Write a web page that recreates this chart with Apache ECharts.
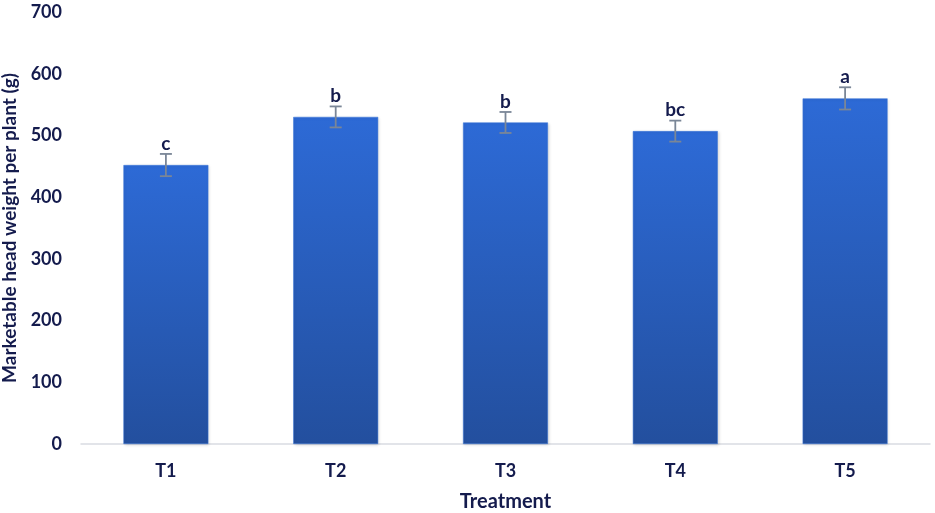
<!DOCTYPE html>
<html lang="en">
<head>
    <meta charset="UTF-8">
    <title>Marketable head weight</title>
    <style>
        html, body { margin: 0; padding: 0; background: #fff; }
    </style>
</head>
<body>
<div id="main" style="width:935px;height:513px;"></div>

<script src="https://cdn.jsdelivr.net/npm/echarts@6/dist/echarts.min.js"></script>
<script>
    var treatments = ['T1', 'T2', 'T3', 'T4', 'T5'];
    var headWeight = [452, 530, 521, 507, 560];
    var stdErr = [18, 17, 17, 17, 18];
    var letters = ['c', 'b', 'b', 'bc', 'a'];

    var textColor = '#141b4d';
    var fontName = 'Lato, "Open Sans", sans-serif';

    var myChart = echarts.init(document.getElementById('main'));

    // error bar + significance letter for each bar
    var errData = treatments.map(function (t, i) {
        return [i, headWeight[i] - stdErr[i], headWeight[i] + stdErr[i], letters[i]];
    });

    myChart.setOption({
        animation: false,
        grid: {left: 81, right: 5, top: 12, bottom: 69, containLabel: false, outerBoundsMode: 'none'},
        xAxis: {
            type: 'category',
            data: treatments,
            name: 'Treatment',
            nameLocation: 'middle',
            nameGap: 48,
            nameTextStyle: {color: textColor, fontSize: 20, fontWeight: 'bold', fontFamily: fontName},
            axisLine: {lineStyle: {color: '#d9dce2', width: 1.5}},
            axisTick: {show: false},
            axisLabel: {color: textColor, fontSize: 18, fontWeight: 'bold', fontFamily: fontName, margin: 18}
        },
        yAxis: {
            type: 'value',
            min: 0,
            max: 700,
            interval: 100,
            name: 'Marketable head weight per plant (g)',
            nameLocation: 'middle',
            nameGap: 57,
            nameTextStyle: {color: textColor, fontSize: 19, fontWeight: 'bold', fontFamily: fontName},
            axisLine: {show: false},
            axisTick: {show: false},
            splitLine: {show: false},
            axisLabel: {color: textColor, fontSize: 18, fontWeight: 'bold', fontFamily: fontName, margin: 19}
        },
        series: [{
            type: 'bar',
            data: headWeight,
            barWidth: '50%',
            itemStyle: {
                color: new echarts.graphic.LinearGradient(0, 0, 0, 1, [
                    {offset: 0, color: '#2d6ad6'},
                    {offset: 1, color: '#234f9e'}
                ]),
                borderColor: '#3a76d8',
                borderWidth: 0.5,
                shadowColor: 'rgba(0,0,0,0.15)',
                shadowBlur: 3,
                shadowOffsetX: 1,
                shadowOffsetY: 1
            }
        }, {
            type: 'custom',
            data: errData,
            z: 10,
            renderItem: function (params, api) {
                var x = api.coord([api.value(0), 0])[0];
                var lo = api.coord([api.value(0), api.value(1)])[1];
                var hi = api.coord([api.value(0), api.value(2)])[1];
                var half = 6;
                var style = {stroke: '#7a8697', lineWidth: 1.8};
                return {
                    type: 'group',
                    children: [
                        {type: 'line', shape: {x1: x, y1: lo, x2: x, y2: hi}, style: style},
                        {type: 'line', shape: {x1: x - half, y1: lo, x2: x + half, y2: lo}, style: style},
                        {type: 'line', shape: {x1: x - half, y1: hi, x2: x + half, y2: hi}, style: style},
                        {
                            type: 'text',
                            x: x,
                            y: hi - 1,
                            style: {
                                text: letters[params.dataIndex],
                                fill: textColor,
                                font: 'bold 19px ' + fontName,
                                align: 'center',
                                verticalAlign: 'bottom'
                            }
                        }
                    ]
                };
            }
        }]
    });
</script>
</body>
</html>
